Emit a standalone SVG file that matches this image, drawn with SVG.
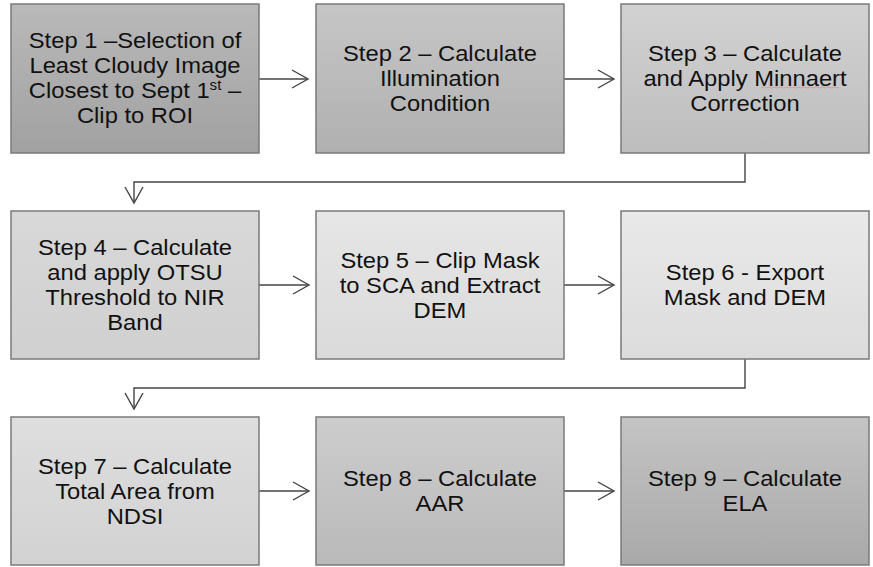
<svg xmlns="http://www.w3.org/2000/svg" width="873" height="567" viewBox="0 0 873 567">
<style>
.box{stroke:#7a7a7a;stroke-width:1.5}
.t{font-family:"Liberation Sans",Arial,sans-serif;font-size:22px;fill:#111;text-anchor:middle}
.c{fill:none;stroke:#444;stroke-width:1.4}
</style>
<defs>
<linearGradient id="g1" x1="0" y1="0" x2="0" y2="1"><stop offset="0" stop-color="#b9b9b9"/><stop offset="1" stop-color="#a1a1a1"/></linearGradient>
<linearGradient id="g2" x1="0" y1="0" x2="0" y2="1"><stop offset="0" stop-color="#c6c6c6"/><stop offset="1" stop-color="#b0b0b0"/></linearGradient>
<linearGradient id="g3" x1="0" y1="0" x2="0" y2="1"><stop offset="0" stop-color="#d2d2d2"/><stop offset="1" stop-color="#bdbdbd"/></linearGradient>
<linearGradient id="g4" x1="0" y1="0" x2="0" y2="1"><stop offset="0" stop-color="#d8d8d8"/><stop offset="1" stop-color="#d0d0d0"/></linearGradient>
<linearGradient id="g5" x1="0" y1="0" x2="0" y2="1"><stop offset="0" stop-color="#e6e6e6"/><stop offset="1" stop-color="#dadada"/></linearGradient>
<linearGradient id="g6" x1="0" y1="0" x2="0" y2="1"><stop offset="0" stop-color="#e9e9e9"/><stop offset="1" stop-color="#dcdcdc"/></linearGradient>
<linearGradient id="g7" x1="0" y1="0" x2="0" y2="1"><stop offset="0" stop-color="#dedede"/><stop offset="1" stop-color="#d2d2d2"/></linearGradient>
<linearGradient id="g8" x1="0" y1="0" x2="0" y2="1"><stop offset="0" stop-color="#cdcdcd"/><stop offset="1" stop-color="#b9b9b9"/></linearGradient>
<linearGradient id="g9" x1="0" y1="0" x2="0" y2="1"><stop offset="0" stop-color="#c4c4c4"/><stop offset="1" stop-color="#a9a9a9"/></linearGradient>
<marker id="arr" markerUnits="userSpaceOnUse" markerWidth="20" markerHeight="22" viewBox="-18 -11 20 22" refX="0" refY="0" orient="auto">
<path d="M-16,-9 L0,0 L-16,9" fill="none" stroke="#444" stroke-width="1.4"/>
</marker>
</defs>

<g id="connectors">
<path class="c" d="M259,79 H308" marker-end="url(#arr)"/>
<path class="c" d="M564,79 H614" marker-end="url(#arr)"/>
<path class="c" d="M745,153 V182 H134 V203" marker-end="url(#arr)"/>
<path class="c" d="M259,285 H309" marker-end="url(#arr)"/>
<path class="c" d="M564,285 H614" marker-end="url(#arr)"/>
<path class="c" d="M745,359 V388 H134 V409" marker-end="url(#arr)"/>
<path class="c" d="M259,491 H309" marker-end="url(#arr)"/>
<path class="c" d="M564,491 H614" marker-end="url(#arr)"/>
</g>

<g id="step1">
<rect class="box" x="11" y="4" width="248" height="149" fill="url(#g1)"/>
<g transform="translate(135 0) scale(1.08 1)">
<text class="t" x="0" y="48">Step 1 –Selection of</text>
<text class="t" x="0" y="73">Least Cloudy Image</text>
<text class="t" x="0" y="98">Closest to Sept 1<tspan font-size="14" dy="-8">st</tspan><tspan dy="8"> –</tspan></text>
<text class="t" x="0" y="123">Clip to ROI</text>
</g>
</g>

<g id="step2">
<rect class="box" x="316" y="4" width="248" height="149" fill="url(#g2)"/>
<g transform="translate(440 0) scale(1.08 1)">
<text class="t" x="0" y="61">Step 2 – Calculate</text>
<text class="t" x="0" y="86">Illumination</text>
<text class="t" x="0" y="111">Condition</text>
</g>
</g>

<g id="step3">
<rect class="box" x="621" y="4" width="248" height="149" fill="url(#g3)"/>
<g transform="translate(745 0) scale(1.08 1)">
<text class="t" x="0" y="61">Step 3 – Calculate</text>
<text class="t" x="0" y="86">and Apply Minnaert</text>
<text class="t" x="0" y="111">Correction</text>
</g>
<path d="M761,87.5 q1.5,-1 3,0 t3,0 t3,0 t3,0 t3,0 t3,0 t3,0 t3,0 t3,0 t3,0 t3,0 t3,0 t3,0 t3,0 t3,0 t3,0 t3,0 t3,0 t3,0 t3,0 t3,0 t3,0 t3,0 t3,0 t3,0 t3,0" fill="none" stroke="#e08a8a" stroke-width="0.8"/>
</g>

<g id="step4">
<rect class="box" x="11" y="211" width="248" height="148" fill="url(#g4)"/>
<g transform="translate(135 0) scale(1.08 1)">
<text class="t" x="0" y="255">Step 4 – Calculate</text>
<text class="t" x="0" y="280">and apply OTSU</text>
<text class="t" x="0" y="305">Threshold to NIR</text>
<text class="t" x="0" y="330">Band</text>
</g>
</g>

<g id="step5">
<rect class="box" x="316" y="211" width="248" height="148" fill="url(#g5)"/>
<g transform="translate(440 0) scale(1.08 1)">
<text class="t" x="0" y="268">Step 5 – Clip Mask</text>
<text class="t" x="0" y="293">to SCA and Extract</text>
<text class="t" x="0" y="318">DEM</text>
</g>
</g>

<g id="step6">
<rect class="box" x="621" y="211" width="248" height="148" fill="url(#g6)"/>
<g transform="translate(745 0) scale(1.08 1)">
<text class="t" x="0" y="280">Step 6 - Export</text>
<text class="t" x="0" y="305">Mask and DEM</text>
</g>
</g>

<g id="step7">
<rect class="box" x="11" y="417" width="248" height="148" fill="url(#g7)"/>
<g transform="translate(135 0) scale(1.08 1)">
<text class="t" x="0" y="474">Step 7 – Calculate</text>
<text class="t" x="0" y="499">Total Area from</text>
<text class="t" x="0" y="524">NDSI</text>
</g>
</g>

<g id="step8">
<rect class="box" x="316" y="417" width="248" height="148" fill="url(#g8)"/>
<g transform="translate(440 0) scale(1.08 1)">
<text class="t" x="0" y="486">Step 8 – Calculate</text>
<text class="t" x="0" y="511">AAR</text>
</g>
</g>

<g id="step9">
<rect class="box" x="621" y="417" width="248" height="148" fill="url(#g9)"/>
<g transform="translate(745 0) scale(1.08 1)">
<text class="t" x="0" y="486">Step 9 – Calculate</text>
<text class="t" x="0" y="511">ELA</text>
</g>
</g>
</svg>
